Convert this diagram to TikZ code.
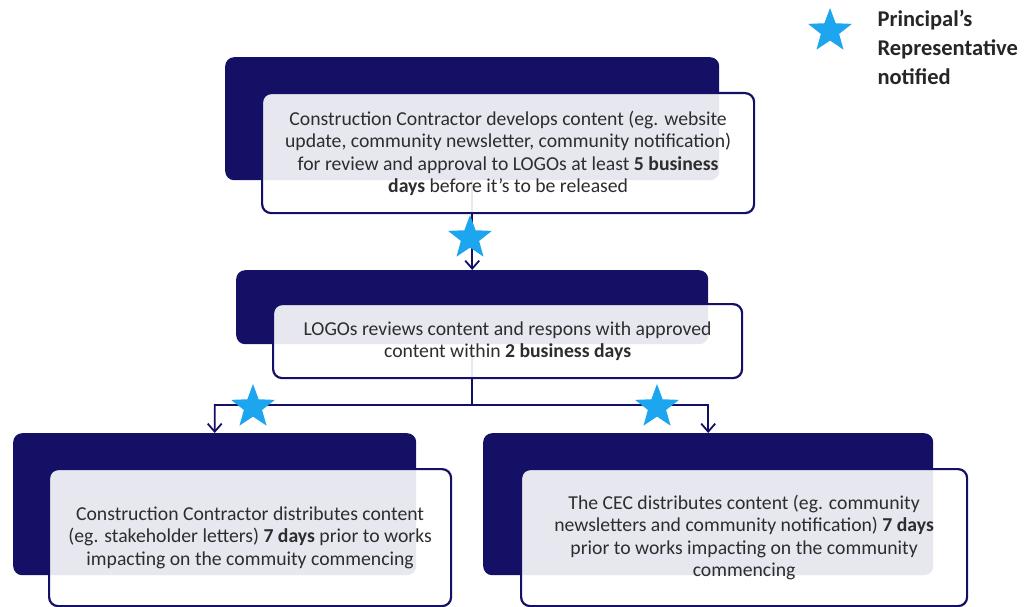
\documentclass[tikz,border=0pt]{standalone}
\usepackage{fontspec}
\setmainfont{Carlito}
\usepackage{xcolor}
\usepackage{tikz}
\usetikzlibrary{shapes.geometric, arrows.meta, positioning, backgrounds}
\definecolor{inkblue}{RGB}{20, 16, 102}
\definecolor{skyblue}{RGB}{30, 165, 240}
\definecolor{bodytext}{RGB}{45, 45, 45}

\begin{document}
\begin{tikzpicture}[
    x=1pt, y=-1pt,
    every node/.style={font=\fontsize{19.7}{22.5}\selectfont, align=center, text=bodytext},
    backbox/.style={fill=inkblue, rounded corners=9pt, anchor=north west, inner sep=0pt},
    frontbox/.style={draw=inkblue, fill=white, fill opacity=0.9, text opacity=1, rounded corners=9pt, line width=2.2pt, anchor=north west, inner sep=0pt},
    flag/.style={star, star points=5, star point ratio=2.4, fill=skyblue, minimum size=46pt, inner sep=0pt},
    arr/.style={-{Straight Barb[length=8pt, width=14pt]}, line width=1.8pt, color=inkblue}
]
\useasboundingbox (0,0) rectangle (1031,607);

% Step 1: content drafted
\node[backbox, minimum width=494pt, minimum height=123pt] (back_dev) at (225,57) {};
\node[frontbox, minimum width=492pt, minimum height=120pt] (front_dev) at (261,92)
  {Construction Contractor develops content (eg. website\\
   update, community newsletter, community notification)\\
   for review and approval to LOGOs at least \textbf{5 business}\\
   \textbf{days} before it's to be released};

% Step 2: LOGOs review
\node[backbox, minimum width=472pt, minimum height=74pt] (back_rev) at (236,270) {};
\node[frontbox, minimum width=469pt, minimum height=74pt] (front_rev) at (272,303)
  {LOGOs reviews content and respons with approved\\
   content within \textbf{2 business days}};

% Step 3: distribution
\node[backbox, minimum width=403pt, minimum height=142pt] (back_cc) at (13,433) {};
\node[frontbox, minimum width=402pt, minimum height=137pt] (front_cc) at (48,468)
  {Construction Contractor distributes content\\
   (eg. stakeholder letters) \textbf{7 days} prior to works\\
   impacting on the commuity commencing};

\node[backbox, minimum width=450pt, minimum height=142pt] (back_cec) at (483,433) {};
\node[frontbox, minimum width=446pt, minimum height=137pt] (front_cec) at (520,468)
  {The CEC distributes content (eg. community\\
   newsletters and community notification) \textbf{7 days}\\
   prior to works impacting on the community\\
   commencing};

% Connectors sit behind the boxes
\coordinate (split) at (472,405);
\begin{scope}[on background layer]
\draw[arr] (back_dev.center) -- (back_rev.north);
\draw[arr] (back_rev.center) -- (split) -| (back_cc.north);
\draw[arr] (split) -| (back_cec.north);
\end{scope}

% Notification stars
\node[flag] (star_rev) at (470,238) {};
\node[flag] (star_cc) at (253,407) {};
\node[flag] (star_cec) at (657,407) {};

% Key
\node[flag] (star_key) at (830,31) {};
\node[anchor=west, align=left, font=\fontsize{22.5}{29}\selectfont\bfseries, text=black!85] (key_txt) at (874,47)
  {Principal's\\Representative\\notified};

\end{tikzpicture}
\end{document}
